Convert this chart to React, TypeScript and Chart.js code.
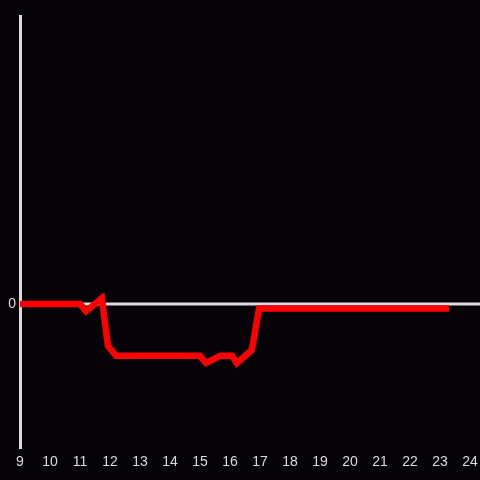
import React, { useEffect, useRef } from "react";
import { Chart, registerables } from "chart.js";

Chart.register(...registerables);

const hours: number[] = [9, 11.0, 11.2, 11.73, 11.93, 12.2, 15.0, 15.2, 15.67, 16.07, 16.23, 16.73, 16.97, 23.3];
const values: number[] = [0, 0, -0.05, 0.04, -0.29, -0.36, -0.36, -0.41, -0.36, -0.36, -0.41, -0.32, -0.031, -0.031];
const xMin = 9;
const xMax = 24;
const yMin = -1;
const yMax = 2;
const yTicks: number[] = [0];

const BG = "#050307";
const AXIS = "#dcdcdc";

const zeroLine = {
  id: "zeroLine",
  beforeDatasetsDraw(chart: any) {
    const { ctx, chartArea, scales } = chart;
    const y = scales.y.getPixelForValue(0);
    ctx.save();
    ctx.strokeStyle = AXIS;
    ctx.lineWidth = 3;
    ctx.beginPath();
    ctx.moveTo(chartArea.left, y);
    ctx.lineTo(chart.width, y);
    ctx.stroke();
    ctx.restore();
  },
};

const bgPlugin = {
  id: "bg",
  beforeDraw(chart: any) {
    const { ctx } = chart;
    ctx.save();
    ctx.fillStyle = BG;
    ctx.fillRect(0, 0, chart.width, chart.height);
    ctx.restore();
  },
};

export default function App() {
  const ref = useRef<HTMLCanvasElement>(null);
  useEffect(() => {
    document.body.style.margin = "0";
    document.body.style.background = BG;
    const chart = new Chart(ref.current!, {
      type: "line",
      data: {
        datasets: [
          {
            data: hours.map((h, i) => ({ x: h, y: values[i] })),
            borderColor: "#ff0000",
            borderWidth: 6.5,
            pointRadius: 0,
            tension: 0,
            fill: false,
            borderCapStyle: "butt",
            borderJoinStyle: "miter",
          },
        ],
      },
      options: {
        animation: false,
        responsive: false,
        maintainAspectRatio: false,
        layout: { padding: { top: 16, right: 10, left: 0, bottom: 0 } },
        plugins: { legend: { display: false }, tooltip: { enabled: false } },
        scales: {
          x: {
            type: "linear",
            min: xMin,
            max: xMax,
            grid: { display: false, drawTicks: false },
            border: { display: false },
            ticks: { stepSize: 1, color: AXIS, font: { size: 14 }, padding: 6, maxRotation: 0 },
            afterFit(scale: any) {
              scale.height = 32;
              scale.paddingLeft = 0;
              scale.paddingRight = 0;
            },
          },
          y: {
            type: "linear",
            min: yMin,
            max: yMax,
            grid: { display: false, drawTicks: false },
            border: { display: true, color: AXIS, width: 3 },
            ticks: { color: AXIS, font: { size: 14 }, padding: 4 },
            afterBuildTicks(scale: any) {
              scale.ticks = yTicks.map((v) => ({ value: v }));
            },
            afterFit(scale: any) {
              scale.width = 20;
              scale.paddingTop = 0;
              scale.paddingBottom = 0;
            },
          },
        },
      },
      plugins: [bgPlugin, zeroLine],
    });
    return () => chart.destroy();
  }, []);
  return <canvas ref={ref} width={480} height={480} style={{ display: "block" }} />;
}
